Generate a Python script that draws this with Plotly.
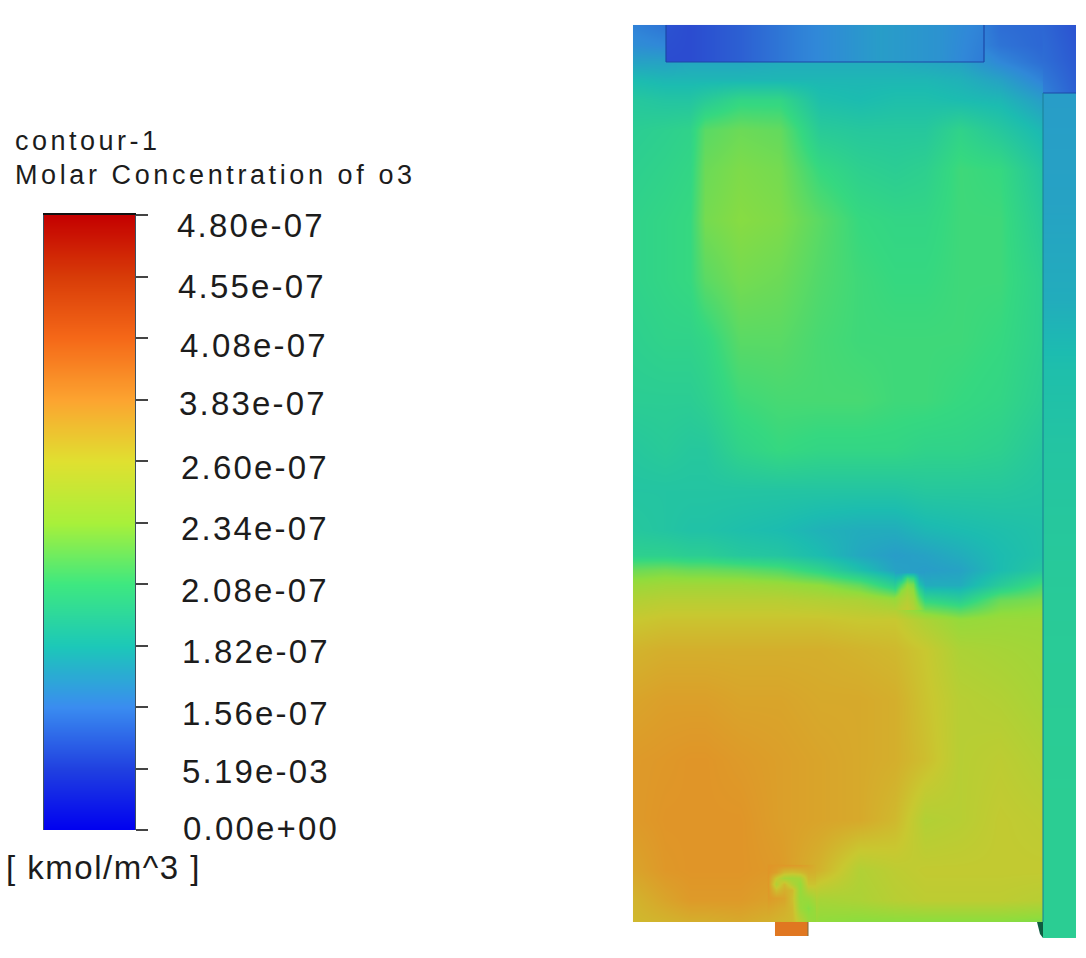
import plotly.graph_objects as go

W, H = 1086, 958

# Colour levels: one level per colour-bar interval, bottom = 0, top = 10
bar_levels = [0, 1, 2, 3, 4, 5, 6, 7, 8, 9, 10]
tick_labels = ["0.00e+00", "5.19e-03", "1.56e-07", "1.82e-07", "2.08e-07", "2.34e-07",
               "2.60e-07", "3.83e-07", "4.08e-07", "4.55e-07", "4.80e-07"]
bar_colors = ["#0000f0", "#2040e0", "#3a8cf0", "#1cc8b8", "#3ee880", "#a8f03a",
              "#e0e030", "#fca430", "#f56818", "#d83c08", "#c40000"]
field_colors = ["#0000f0", "#2a45cf", "#3088d8", "#1cbcb0", "#35d880", "#90dc3c",
                "#c8c830", "#e09528", "#e06a1e", "#d03c10", "#c00000"]

# Main room
room_x = [633, 665, 690, 705, 740, 780, 820, 860, 895, 925, 960, 1000, 1043]
room_y = [25, 45, 62, 80, 100, 130, 170, 220, 280, 340, 400, 450, 490, 530, 555, 570, 585, 600,
          620, 650, 700, 760, 820, 870, 900, 922]
room_z = [
    [1.9, 1.7, 1.5, 1.5, 1.7, 2.0, 2.1, 2.3, 2.3, 2.3, 2.2, 1.6, 1.5],
    [2.1, 2.0, 1.9, 1.9, 2.0, 2.1, 2.2, 2.4, 2.4, 2.4, 2.2, 1.7, 1.5],
    [2.5, 2.5, 2.6, 2.6, 2.6, 2.7, 2.7, 2.7, 2.7, 2.6, 2.5, 2.0, 1.6],
    [3.0, 2.9, 2.9, 2.9, 2.9, 2.9, 2.9, 2.9, 2.9, 2.9, 2.8, 2.5, 1.9],
    [3.4, 3.3, 3.3, 3.5, 3.9, 3.9, 3.1, 3.0, 3.1, 3.1, 3.0, 2.9, 2.4],
    [3.6, 3.7, 3.8, 4.4, 4.6, 4.5, 3.5, 3.4, 3.4, 3.4, 3.8, 3.4, 2.9],
    [3.7, 3.8, 3.9, 4.6, 4.8, 4.7, 4.0, 3.7, 3.6, 3.7, 4.1, 4.0, 3.3],
    [3.8, 3.9, 4.0, 4.7, 4.9, 4.8, 4.4, 4.0, 3.9, 3.9, 4.1, 4.1, 3.5],
    [3.8, 3.9, 4.0, 4.4, 4.7, 4.6, 4.3, 4.1, 4.0, 4.0, 4.1, 4.1, 3.7],
    [3.7, 3.8, 3.8, 3.9, 4.4, 4.4, 4.2, 4.1, 4.1, 4.1, 4.1, 4.0, 3.7],
    [3.6, 3.6, 3.6, 3.7, 4.1, 4.2, 4.2, 4.2, 4.1, 4.1, 4.0, 3.9, 3.6],
    [3.4, 3.5, 3.4, 3.4, 3.8, 4.0, 3.9, 3.9, 3.9, 3.8, 3.8, 3.7, 3.4],
    [3.3, 3.3, 3.3, 3.3, 3.3, 3.3, 3.3, 3.3, 3.3, 3.4, 3.4, 3.4, 3.3],
    [3.4, 3.3, 3.2, 3.2, 3.1, 3.0, 2.8, 2.7, 2.7, 2.9, 3.0, 3.1, 3.2],
    [3.7, 3.7, 3.6, 3.6, 3.4, 3.3, 3.0, 2.6, 2.4, 2.5, 2.7, 3.0, 3.2],
    [4.6, 4.7, 4.6, 4.6, 4.5, 4.3, 3.8, 3.1, 2.5, 2.4, 2.5, 3.0, 3.4],
    [5.2, 5.3, 5.3, 5.3, 5.3, 5.2, 5.0, 4.5, 3.6, 2.7, 2.7, 3.5, 4.2],
    [5.6, 5.7, 5.7, 5.7, 5.7, 5.7, 5.6, 5.5, 5.2, 3.9, 3.6, 4.6, 4.8],
    [6.0, 6.1, 6.1, 6.1, 6.1, 6.1, 6.1, 6.0, 6.0, 5.5, 5.1, 5.2, 5.2],
    [6.4, 6.5, 6.5, 6.5, 6.5, 6.5, 6.5, 6.4, 6.3, 6.0, 5.5, 5.4, 5.3],
    [6.7, 6.8, 6.8, 6.8, 6.7, 6.7, 6.6, 6.6, 6.5, 6.1, 5.7, 5.6, 5.4],
    [6.9, 6.95, 7.0, 7.0, 6.9, 6.8, 6.7, 6.6, 6.5, 6.2, 5.7, 5.8, 5.6],
    [6.9, 7.0, 7.0, 7.0, 7.0, 6.8, 6.7, 6.6, 6.3, 5.6, 5.7, 5.9, 5.8],
    [6.7, 6.95, 7.0, 7.0, 7.0, 6.9, 6.4, 5.6, 5.8, 5.9, 5.9, 5.9, 5.9],
    [6.4, 6.7, 6.9, 6.9, 6.9, 6.7, 5.4, 5.5, 5.7, 5.8, 5.8, 5.8, 5.7],
    [6.3, 6.4, 6.5, 6.5, 6.6, 6.4, 5.0, 4.9, 4.9, 4.9, 4.9, 4.9, 4.8],
]

# Plume above the inlet at the floor
plume_x = [768, 776, 784, 792, 800, 808, 816]
plume_y = [865, 872, 878, 884, 890, 898, 908, 922]
plume_z = [
    [7.0, 6.95, 6.95, 6.9, 6.85, 6.7, 6.5],
    [7.0, 6.8, 6.3, 6.2, 6.3, 6.5, 6.45],
    [6.95, 6.0, 5.4, 5.3, 5.4, 6.3, 6.3],
    [6.95, 5.6, 6.3, 5.6, 5.1, 6.1, 6.1],
    [6.95, 6.2, 6.5, 6.3, 5.1, 5.7, 5.8],
    [6.9, 6.8, 6.7, 6.2, 5.1, 5.2, 5.5],
    [6.7, 6.6, 6.5, 6.3, 5.2, 4.9, 5.2],
    [6.45, 6.4, 6.35, 6.3, 5.8, 5.2, 5.0],
]

# Small bump on the front
bump_x = [895, 901, 907, 913, 919, 925]
bump_y = [572, 578, 584, 590, 598, 610]
bump_z = [
    [2.5, 2.5, 2.5, 2.5, 2.4, 2.4],
    [3.0, 3.2, 4.2, 3.9, 2.7, 2.55],
    [3.5, 4.2, 4.9, 4.7, 3.1, 2.7],
    [4.1, 4.9, 5.3, 5.0, 3.8, 3.1],
    [5.1, 5.4, 5.6, 5.3, 4.4, 3.75],
    [5.6, 5.8, 5.9, 5.7, 5.2, 4.7],
]

# Duct along the ceiling
duct_x = [666, 690, 740, 800, 880, 940, 984]
duct_y = [25, 62]
duct_z = [
    [1.2, 1.1, 1.4, 1.9, 2.4, 2.2, 1.9],
    [1.1, 1.1, 1.4, 1.9, 2.4, 2.2, 1.8],
]

# Corner above the side panel
corner_x = [1043, 1076]
corner_y = [25, 60, 93]
corner_z = [[1.5, 1.2], [1.6, 1.3], [1.9, 1.4]]

# Side panel
panel_x = [1043, 1076]
panel_y = [93, 200, 300, 370, 450, 600, 800, 938]
panel_z = [[2.4, 2.4], [2.5, 2.5], [2.7, 2.7], [3.1, 3.1], [3.3, 3.3], [3.5, 3.5], [3.6, 3.6], [3.6, 3.6]]

# Inlet stub under the floor
stub_x = [775, 808]
stub_y = [922, 936]
stub_z = [[7.7, 7.7], [7.7, 7.7]]

label_x = [181, 180, 180, 180, 179, 179, 179, 177, 178, 176, 175]
label_y = [828, 771, 713, 651, 590, 528, 467, 403, 345, 286, 225]


def scale(colors):
    return [[i / (len(colors) - 1), c] for i, c in enumerate(colors)]


def pad(x, y, z):
    """Repeat the outer nodes just beyond the edge so the smoothed image stops at the edge."""
    e = 0.01
    px = [x[0] - e] + list(x) + [x[-1] + e]
    py = [y[0] - e] + list(y) + [y[-1] + e]
    rows = [[r[0]] + list(r) + [r[-1]] for r in z]
    return px, py, [rows[0]] + rows + [rows[-1]]


def field(x, y, z):
    px, py, pz = pad(x, y, z)
    return go.Heatmap(x=px, y=py, z=pz, zmin=0, zmax=10, zsmooth="best", showscale=False,
                      colorscale=scale(field_colors), hoverinfo="skip")


fig = go.Figure()
for part in [(room_x, room_y, room_z), (plume_x, plume_y, plume_z), (bump_x, bump_y, bump_z),
             (duct_x, duct_y, duct_z), (corner_x, corner_y, corner_z),
             (panel_x, panel_y, panel_z), (stub_x, stub_y, stub_z)]:
    fig.add_trace(field(*part))

# Legend bar on its own axes
fig.add_trace(go.Heatmap(x=[0, 1], y=bar_levels, z=[[v, v] for v in bar_levels], zmin=0, zmax=10,
                         zsmooth="best", showscale=False, colorscale=scale(bar_colors),
                         xaxis="x2", yaxis="y2", hoverinfo="skip"))

LINE_DUCT = dict(color="#1c48a8", width=1.2)
LINE_PANEL = dict(color="#1a7f96", width=1)
shapes = [
    dict(type="line", x0=666, x1=666, y0=25, y1=62, line=LINE_DUCT),
    dict(type="line", x0=666, x1=984, y0=62, y1=62, line=LINE_DUCT),
    dict(type="line", x0=984, x1=984, y0=25, y1=62, line=LINE_DUCT),
    dict(type="line", x0=1043, x1=1076, y0=93, y1=93, line=LINE_DUCT),
    dict(type="line", x0=1043, x1=1043, y0=93, y1=922, line=LINE_PANEL),
    dict(type="path", path="M 1037 922 L 1043 922 L 1043 938 L 1040 934 Z",
         fillcolor="#0e5c40", line=dict(width=0)),
    dict(type="line", x0=808, x1=808, y0=922, y1=936, line=dict(color="#7a6a40", width=1)),
]

TEXT = "#1c1c1c"
FONT = "Liberation Sans"


def spaced(text, px):
    return f'<span style="letter-spacing:{px}px">{text}</span>'


annotations = [
    dict(x=lx, y=ly, text=spaced(t, 2.2), xanchor="left", yanchor="middle", showarrow=False,
         xref="x", yref="y", font=dict(family=FONT, size=33, color=TEXT))
    for t, lx, ly in zip(tick_labels, label_x, label_y)
]
annotations += [
    dict(x=13, y=141, text=spaced("contour-1", 3.5), xanchor="left", yanchor="middle", showarrow=False,
         xref="x", yref="y", font=dict(family=FONT, size=27, color=TEXT)),
    dict(x=13, y=175, text=spaced("Molar Concentration of o3", 3.6), xanchor="left", yanchor="middle",
         showarrow=False, xref="x", yref="y", font=dict(family=FONT, size=27, color=TEXT)),
    dict(x=4, y=867, text=spaced("[ kmol/m^3 ]", 1.5), xanchor="left", yanchor="middle", showarrow=False,
         xref="x", yref="y", font=dict(family=FONT, size=33, color=TEXT)),
]

fig.update_layout(
    width=W, height=H, margin=dict(l=0, r=0, t=0, b=0),
    paper_bgcolor="white", plot_bgcolor="white", showlegend=False,
    xaxis=dict(range=[0, W], visible=False, domain=[0, 1]),
    yaxis=dict(range=[H, 0], visible=False, domain=[0, 1]),
    xaxis2=dict(domain=[44 / W, 135 / W], range=[0, 1], anchor="y2", side="top", showline=True,
                linecolor="#111111", linewidth=1.5, showticklabels=False, ticks="", showgrid=False,
                zeroline=False),
    yaxis2=dict(domain=[(H - 830) / H, (H - 215) / H], range=[0, 10], anchor="x2", side="right",
                tickmode="array", tickvals=bar_levels, ticktext=tick_labels, showticklabels=False,
                ticks="outside", ticklen=12, tickwidth=1.5, tickcolor="#444444",
                showline=True, linecolor="#3c5060", linewidth=1, mirror=True,
                showgrid=False, zeroline=False),
    shapes=shapes, annotations=annotations,
)

fig.write_html("out.html", config=dict(displayModeBar=False),
               post_script="document.body.style.margin='0';document.body.style.overflow='hidden';")
